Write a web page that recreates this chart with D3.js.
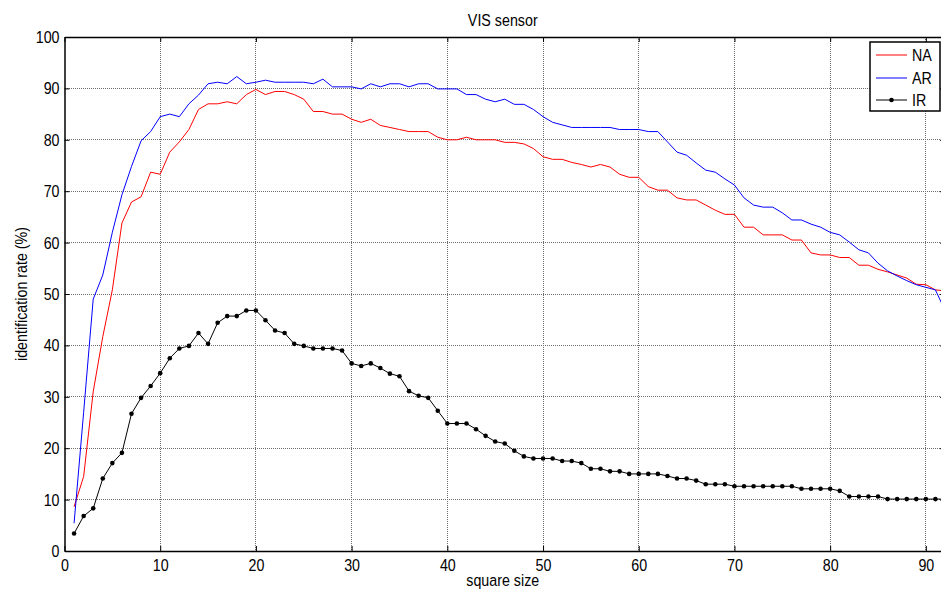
<!DOCTYPE html>
<html>
<head>
<meta charset="utf-8">
<script src="https://cdn.jsdelivr.net/npm/d3@7"></script>
<style>
    body { margin: 0; background: #fff; }
    text { font-family: "Liberation Sans", Arial, sans-serif; fill: #000; }
</style>
</head>
<body>
<svg id="chart" width="941" height="592"></svg>
<script>
// values, one per square size 1..92
var squareSize = d3.range(1, 93)

var naValues = [8.6, 14.5, 31.0, 41.7, 50.8, 63.8, 67.9, 68.9, 73.7, 73.3,
    77.6, 79.6, 82.0, 85.9, 87.0, 87.0, 87.4, 87.0, 88.8, 89.8,
    88.8, 89.4, 89.4, 88.8, 87.9, 85.5, 85.5, 85.0, 85.0, 84.0,
    83.4, 84.0, 82.8, 82.4, 82.0, 81.6, 81.6, 81.6, 80.5, 80.0,
    80.0, 80.5, 80.0, 80.0, 80.0, 79.5, 79.5, 79.2, 78.3, 76.7,
    76.2, 76.2, 75.6, 75.2, 74.7, 75.2, 74.7, 73.3, 72.7, 72.7,
    70.9, 70.2, 70.2, 68.7, 68.3, 68.3, 67.3, 66.3, 65.5, 65.5,
    63.0, 63.0, 61.5, 61.5, 61.5, 60.5, 60.5, 58.0, 57.6, 57.6,
    57.1, 57.1, 55.6, 55.6, 54.8, 54.3, 53.7, 53.1, 51.9, 51.8,
    50.8, 50.6]

var arValues = [5.4, 27.0, 49.0, 53.7, 62.0, 69.3, 74.8, 79.8, 81.6, 84.5,
    85.0, 84.5, 87.0, 88.7, 90.9, 91.2, 90.9, 92.3, 90.9, 91.2,
    91.6, 91.2, 91.2, 91.2, 91.2, 90.9, 91.8, 90.3, 90.3, 90.3,
    89.9, 90.9, 90.3, 90.9, 90.9, 90.3, 90.9, 90.9, 89.9, 89.9,
    89.9, 88.8, 88.8, 87.9, 87.4, 87.9, 86.9, 86.9, 85.9, 84.5,
    83.4, 82.9, 82.4, 82.4, 82.4, 82.4, 82.4, 82.0, 82.0, 82.0,
    81.6, 81.6, 79.6, 77.6, 77.0, 75.5, 74.1, 73.7, 72.4, 71.2,
    68.7, 67.3, 66.9, 66.9, 65.8, 64.4, 64.4, 63.6, 63.0, 62.0,
    61.5, 60.1, 58.6, 58.0, 56.0, 54.5, 53.5, 52.6, 51.8, 51.3,
    50.8, 46.8]

var irValues = [3.4, 6.8, 8.3, 14.1, 17.1, 19.1, 26.7, 29.8, 32.1, 34.6,
    37.5, 39.4, 39.9, 42.4, 40.3, 44.4, 45.7, 45.7, 46.8, 46.8,
    44.9, 42.9, 42.4, 40.3, 39.9, 39.4, 39.4, 39.4, 39.0, 36.5,
    36.0, 36.5, 35.6, 34.5, 34.0, 31.1, 30.2, 29.8, 27.3, 24.8,
    24.8, 24.8, 23.7, 22.4, 21.3, 20.9, 19.5, 18.4, 18.0, 18.0,
    18.0, 17.5, 17.5, 17.1, 16.0, 16.0, 15.5, 15.5, 15.0, 15.0,
    15.0, 15.0, 14.6, 14.1, 14.1, 13.7, 13.0, 13.0, 13.0, 12.6,
    12.6, 12.6, 12.6, 12.6, 12.6, 12.6, 12.1, 12.1, 12.1, 12.1,
    11.7, 10.6, 10.6, 10.6, 10.6, 10.1, 10.1, 10.1, 10.1, 10.1,
    10.1, 10.1]

var xTicks = d3.range(0, 91, 10)
var yTicks = d3.range(0, 101, 10)

var seriesNames = ["NA", "AR", "IR"]
var seriesColors = ["#ff0000", "#0000ff", "#000000"]

var svg = d3.select("#chart")

// plot area; right edge sits just past the window like in the picture
var plotLeft = 64.5, plotRight = 945, plotTop = 37, plotBottom = 551
var fontSize = 17
var squeeze = 0.84   // the picture's Helvetica is narrower than Liberation Sans

var x = d3.scaleLinear().domain([0, 92]).range([plotLeft, plotRight])
var y = d3.scaleLinear().domain([0, 100]).range([plotBottom, plotTop])

svg.append("defs").append("clipPath").attr("id", "plotClip")
    .append("rect")
    .attr("x", plotLeft).attr("y", plotTop)
    .attr("width", plotRight - plotLeft).attr("height", plotBottom - plotTop)

// grid
var grid = svg.append("g").attr("class", "grid")
grid.selectAll("line.gx")
    .data(xTicks.filter(function(d) { return d > 0 }))
    .enter().append("line")
    .attr("class", "gx")
    .attr("x1", function(d) { return x(d) }).attr("x2", function(d) { return x(d) })
    .attr("y1", plotTop).attr("y2", plotBottom)
grid.selectAll("line.gy")
    .data(yTicks.filter(function(d) { return d > 0 && d < 100 }))
    .enter().append("line")
    .attr("class", "gy")
    .attr("y1", function(d) { return y(d) }).attr("y2", function(d) { return y(d) })
    .attr("x1", plotLeft).attr("x2", plotRight)
grid.selectAll("line")
    .attr("stroke", "#6e6e6e")
    .attr("stroke-width", 1)
    .attr("stroke-dasharray", "1,1")
    .attr("shape-rendering", "crispEdges")

// axes (ticks point inward, MATLAB style)
svg.append("g")
    .attr("class", "xaxis")
    .attr("transform", "translate(0," + plotBottom + ")")
    .call(d3.axisBottom(x).tickValues(xTicks).tickSizeInner(-5).tickSizeOuter(0).tickPadding(8))
svg.append("g")
    .attr("transform", "translate(0," + plotTop + ")")
    .call(d3.axisTop(x).tickValues(xTicks).tickSizeInner(-5).tickSizeOuter(0).tickFormat(""))
svg.append("g")
    .attr("class", "yaxis")
    .attr("transform", "translate(" + plotLeft + ",0)")
    .call(d3.axisLeft(y).tickValues(yTicks).tickSizeInner(-5).tickSizeOuter(0).tickPadding(5))
svg.append("g")
    .attr("transform", "translate(" + plotRight + ",0)")
    .call(d3.axisRight(y).tickValues(yTicks).tickSizeInner(-5).tickSizeOuter(0).tickFormat(""))

svg.selectAll(".domain").attr("stroke", "#000").attr("stroke-width", 1.5)
svg.selectAll(".tick line").attr("stroke", "#000")
svg.selectAll(".tick text")
    .attr("font-size", fontSize)
    .attr("font-family", '"Liberation Sans", Arial, sans-serif')
    .attr("transform", "scale(" + squeeze + ",1)")
// keep the left labels' anchor at the same spot after squeezing
svg.selectAll(".yaxis .tick text").attr("x", -5 / squeeze)

// lines
var line = d3.line()
    .x(function(d) { return x(d[0]) })
    .y(function(d) { return y(d[1]) })

var allSeries = [naValues, arValues, irValues]
var plot = svg.append("g").attr("clip-path", "url(#plotClip)")

allSeries.forEach(function(values, k) {
    var pts = squareSize.map(function(s, i) { return [s, values[i]] })
    plot.append("path")
        .datum(pts)
        .attr("fill", "none")
        .attr("stroke", seriesColors[k])
        .attr("stroke-width", 1)
        .attr("d", line)
})

// IR markers
plot.selectAll("circle.ir")
    .data(squareSize.map(function(s, i) { return [s, irValues[i]] }))
    .enter().append("circle")
    .attr("class", "ir")
    .attr("cx", function(d) { return x(d[0]) })
    .attr("cy", function(d) { return y(d[1]) })
    .attr("r", 2.3)
    .attr("fill", "#000")

// labels
function label(px, py, str, rotate) {
    var g = svg.append("g")
        .attr("transform", "translate(" + px + "," + py + ")" + (rotate ? " rotate(-90)" : ""))
    g.append("text")
        .attr("text-anchor", "middle")
        .attr("font-size", fontSize)
        .attr("transform", "scale(" + squeeze + ",1)")
        .text(str)
}
label((plotLeft + 941) / 2, 26, "VIS sensor")
label((plotLeft + 941) / 2, 586, "square size")
label(27, (plotTop + plotBottom) / 2, "identification rate (%)", true)

// legend
var legend = svg.append("g").attr("transform", "translate(870,42)")
legend.append("rect")
    .attr("width", 70).attr("height", 69)
    .attr("fill", "#fff").attr("stroke", "#000").attr("stroke-width", 1.5)

function colorOf(name) {
    return seriesColors[seriesNames.indexOf(name)]
}

var items = legend.selectAll("g.item")
    .data(seriesNames).enter()
    .append("g")
    .attr("class", "item")
    .attr("transform", function(d, i) { return "translate(0," + Math.round(13 + i * 22.5) + ")" })
items.append("line")
    .attr("x1", 6).attr("x2", 37)
    .attr("stroke", colorOf)
    .attr("stroke-width", 1)
items.filter(function(d) { return d == "IR" })
    .append("circle")
    .attr("cx", 21.5).attr("r", 2.3).attr("fill", "#000")
items.append("text")
    .attr("x", 42 / squeeze).attr("y", 6)
    .attr("font-size", fontSize)
    .attr("transform", "scale(" + squeeze + ",1)")
    .text(function(d) { return d })
</script>
</body>
</html>
